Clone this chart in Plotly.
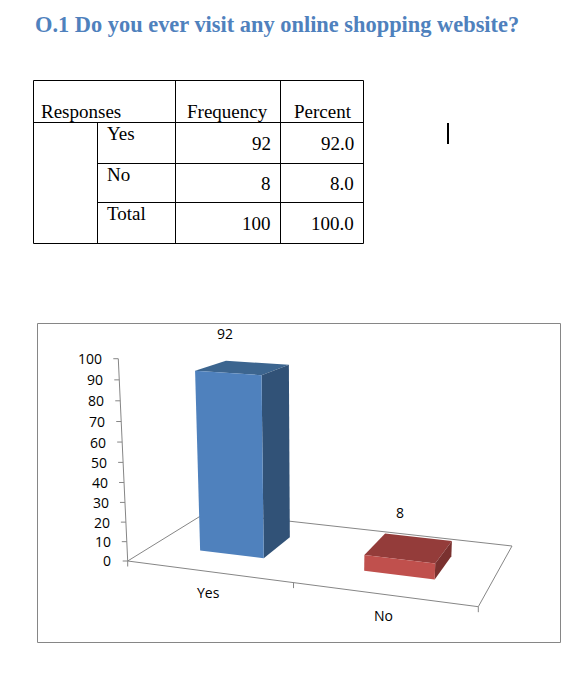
import numpy as np
import plotly.graph_objects as go

# chart data
categories = ['Yes', 'No']
values = [92, 8]
y_ticks = [0, 10, 20, 30, 40, 50, 60, 70, 80, 90, 100]

# table data
table_header = ['Responses', 'Frequency', 'Percent']
table_rows = ['Yes', 'No', 'Total']
table_freq = ['92', '8', '100']
table_pct = ['92.0', '8.0', '100.0']

title_text = 'O.1 Do you ever visit any online shopping website?'

AXIS_COLOR = '#868686'
CHART_FONT = 'Open Sans, sans-serif'
TABLE_FONT = 'Liberation Serif, serif'
FRONT = ['#4F81BD', '#C0504D']
TOP = ['#3C658F', '#943C3A']
SIDE = ['#315277', '#7A312F']

# camera for the fake 3d: floor corners in page pixels, plus vertical vanishing point
FLOOR = [(127.7, 561.0), (478.3, 606.7), (512.0, 546.0), (207.0, 512.0)]
VANISH = (311.6, 4516.0)
VANISH_K = -0.0004866


def floor_matrix():
    uv = [(0, 0), (2, 0), (2, 1), (0, 1)]
    a, b = [], []
    for (u, v), (x, y) in zip(uv, FLOOR):
        a.append([u, v, 1, 0, 0, 0, -u * x, -v * x])
        a.append([0, 0, 0, u, v, 1, -u * y, -v * y])
        b += [x, y]
    h = np.linalg.solve(np.array(a, float), np.array(b, float))
    return np.append(h, 1).reshape(3, 3)


H = floor_matrix()


def project(c, d, v):
    p = H @ np.array([c, d, 1.0])
    p = p + v * VANISH_K * np.array([VANISH[0], VANISH[1], 1.0])
    return p[0] / p[2], p[1] / p[2]


fig = go.Figure()
annotations = []
shapes = []


def add_text(x, baseline, s, size, family, anchor='left', color='black', bold=False):
    if bold:
        s = '<b>' + s + '</b>'
    annotations.append(dict(x=x, y=baseline - 0.29 * size, text=s, xref='x', yref='y',
                            xanchor=anchor, yanchor='middle', showarrow=False, borderpad=0,
                            font=dict(size=size, family=family, color=color)))


def add_line(x0, y0, x1, y1, color='black', width=1):
    shapes.append(dict(type='line', x0=x0, y0=y0, x1=x1, y1=y1, xref='x', yref='y',
                       line=dict(color=color, width=width)))


def add_poly(points, color):
    xs = [p[0] for p in points] + [points[0][0]]
    ys = [p[1] for p in points] + [points[0][1]]
    fig.add_trace(go.Scatter(x=xs, y=ys, mode='lines', fill='toself', fillcolor=color,
                             line=dict(width=0), hoverinfo='skip', showlegend=False))


def add_path(points):
    fig.add_trace(go.Scatter(x=[p[0] for p in points], y=[p[1] for p in points], mode='lines',
                             line=dict(color=AXIS_COLOR, width=1), hoverinfo='skip', showlegend=False))


# title
add_text(33.5, 30.5, title_text, 22.4, TABLE_FONT, color='#4F81BD', bold=True)

# table grid
for y in [80.5, 122.5, 163.5, 202.5, 243.5]:
    add_line(33.5 if y != 163.5 and y != 202.5 else 97.5, y, 363.5, y)
for x in [33.5, 175.5, 280.5, 363.5]:
    add_line(x, 80.5, x, 243.5)
add_line(97.5, 122.5, 97.5, 243.5)

# table text
for label, x in zip(table_header, [40, 186, 292.5]):
    add_text(x, 116.7, label, 19, TABLE_FONT)
for i, base in enumerate([139, 180.3, 219]):
    add_text(105.5, base, table_rows[i], 19, TABLE_FONT)
for i, base in enumerate([149, 189.3, 229.3]):
    add_text(271.5, base, table_freq[i], 19, TABLE_FONT, anchor='right')
    add_text(355, base, table_pct[i], 19, TABLE_FONT, anchor='right')

# text cursor left in the page
add_line(448, 123, 448, 144, width=2)

# chart frame
shapes.append(dict(type='rect', x0=37.5, y0=323.5, x1=560.5, y1=642.5, xref='x', yref='y',
                   line=dict(color=AXIS_COLOR, width=1)))

# floor and value axis
add_path([project(0, 0, 0), project(0, 1, 0), project(2, 1, 0), project(2, 0, 0), project(0, 0, 0)])
add_path([project(0, 0, 0), project(0, 0, y_ticks[-1])])
for t in y_ticks:
    x, y = project(0, 0, t)
    add_path([(x - 5, y), (x, y)])
    add_text(x - 15.3, y + 4, str(t), 14, CHART_FONT, anchor='right')
for c in range(len(categories) + 1):
    x, y = project(c, 0, 0)
    add_path([(x, y), (x, y + 5.5)])

# bars, 150% gap on width and depth
label_offsets = [(-18, -35), (-9, -36)]
for i, v in enumerate(values):
    c0, c1 = i + 0.3, i + 0.7
    d0, d1 = 0.3, 0.7
    add_poly([project(c0, d0, v), project(c1, d0, v), project(c1, d1, v), project(c0, d1, v)], TOP[i])
    add_poly([project(c1, d0, 0), project(c1, d1, 0), project(c1, d1, v), project(c1, d0, v)], SIDE[i])
    add_poly([project(c0, d0, 0), project(c1, d0, 0), project(c1, d0, v), project(c0, d0, v)], FRONT[i])
    x, y = project(i + 0.5, 0.5, v)
    add_text(x + label_offsets[i][0], y + label_offsets[i][1] + 5, str(v), 14, CHART_FONT, anchor='center')
    x, y = project(i + 0.5, 0, 0)
    add_text(x, y + 21 + 4, categories[i], 14, CHART_FONT, anchor='center')

fig.update_layout(
    width=583,
    height=688,
    margin=dict(l=0, r=0, t=0, b=0),
    paper_bgcolor='white',
    plot_bgcolor='white',
    xaxis=dict(range=[0, 583], visible=False, fixedrange=True),
    yaxis=dict(range=[688, 0], visible=False, fixedrange=True),
    annotations=annotations,
    shapes=shapes,
    showlegend=False,
)

fig.write_html("out.html", post_script="document.body.style.margin='0';", config={'displayModeBar': False})
